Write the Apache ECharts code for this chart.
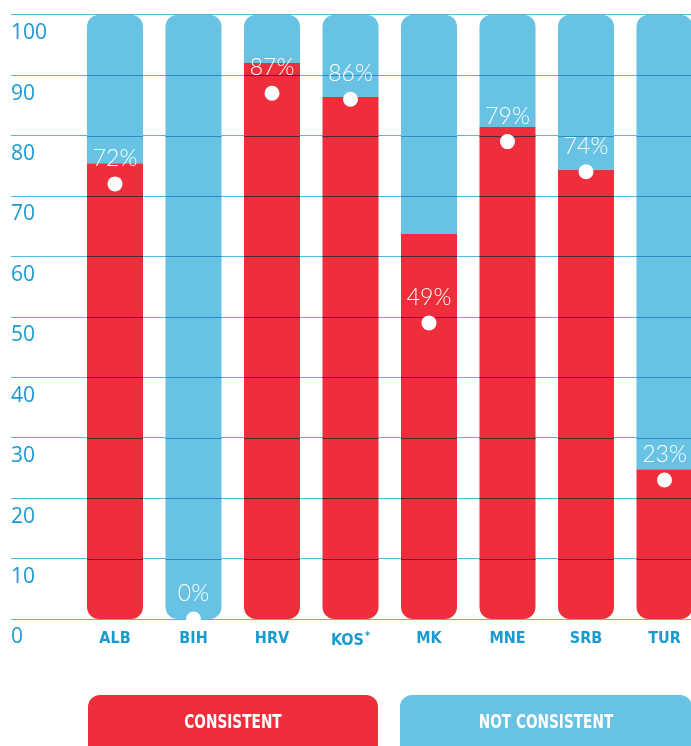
<!DOCTYPE html>
<html>
<head>
<meta charset="utf-8">
<script src="https://cdn.jsdelivr.net/npm/echarts@6/dist/echarts.min.js"></script>
<style>
  html, body { margin: 0; padding: 0; background: #ffffff; }
  #chart { width: 691px; height: 746px; }
</style>
</head>
<body>
<div id="chart"></div>
<script>
// Country codes along the bottom
const categories = ['ALB', 'BIH', 'HRV', 'KOS', 'MK', 'MNE', 'SRB', 'TUR'];
// Height of the red (consistent) part of each column
const consistentShare = [75.4, 0, 92, 86.4, 63.7, 81.4, 74.4, 24.8];
// Remainder up to 100, drawn in blue
const notConsistentShare = consistentShare.map(v => +(100 - v).toFixed(1));
// Percentages marked with the white dots
const dotValues = [72, 0, 87, 86, 49, 79, 74, 23];
// Horizontal guide lines
const yTicks = [0, 10, 20, 30, 40, 50, 60, 70, 80, 90, 100];
// Legend captions
const legendNames = ['CONSISTENT', 'NOT CONSISTENT'];

const RED = '#ee2e3b';
const BLUE = '#67c2e3';
const AXIS_BLUE = '#1a9bd0';
const GRID_LINE = '#55b9e1';
// guide line tint where it crosses a red or a blue column
const LINE_ON_RED = '#4a2a3c';
const LINE_ON_BLUE = '#2a8cc4';
const NARROW = "'Liberation Sans Narrow', 'DejaVu Sans Condensed', 'Roboto', sans-serif";
const R = 12;
const BAR_W = 56;

const chart = echarts.init(document.getElementById('chart'), null, { renderer: 'canvas' });

const redData = consistentShare.map(v => ({
  value: v,
  itemStyle: { borderRadius: [0, 0, R, R] }
}));
const blueData = notConsistentShare.map((v, i) => ({
  value: v,
  itemStyle: { borderRadius: consistentShare[i] === 0 ? [R, R, R, R] : [R, R, 0, 0] }
}));

chart.setOption({
  animation: false,
  backgroundColor: '#ffffff',
  grid: [
    // grid 0: guide lines and value labels across the full width
    { left: 11, right: 0, top: 14.7, bottom: 127, containLabel: false, outerBoundsMode: 'none' },
    // grid 1: the columns (runs slightly past the right edge)
    { left: 75.75, width: 628, top: 14.7, bottom: 127, containLabel: false, outerBoundsMode: 'none' }
  ],
  xAxis: [
    { type: 'value', gridIndex: 0, min: 0, max: 1, show: false },
    {
      type: 'category', gridIndex: 1, data: categories,
      axisLine: { show: false }, axisTick: { show: false },
      axisLabel: {
        interval: 0,
        margin: 12,
        color: AXIS_BLUE,
        fontFamily: NARROW,
        fontWeight: 'bold',
        fontSize: 16,
        formatter: v => v === 'KOS' ? '{b|KOS}{s|*}' : '{b|' + v + '}',
        rich: {
          b: { color: AXIS_BLUE, fontFamily: NARROW, fontWeight: 'bold', fontSize: 16 },
          s: { color: AXIS_BLUE, fontFamily: NARROW, fontWeight: 'bold', fontSize: 11, padding: [0, 0, 9, 1] }
        }
      }
    }
  ],
  yAxis: [
    {
      type: 'value', gridIndex: 0, min: 0, max: 100, interval: 10,
      axisLine: { show: false }, axisTick: { show: false },
      splitLine: { show: true, lineStyle: { color: GRID_LINE, width: 1 } },
      axisLabel: {
        inside: true, margin: 0, align: 'left', verticalAlign: 'top',
        padding: [8, 0, 0, 0],
        color: AXIS_BLUE, fontSize: 21, fontFamily: "'Open Sans', sans-serif"
      }
    },
    {
      type: 'value', gridIndex: 1, min: 0, max: 100, interval: 10, show: false
    }
  ],
  series: [
    {
      name: legendNames[0], type: 'bar', stack: 'share',
      xAxisIndex: 1, yAxisIndex: 1, barWidth: BAR_W,
      itemStyle: { color: RED }, data: redData, z: 2
    },
    {
      name: legendNames[1], type: 'bar', stack: 'share',
      xAxisIndex: 1, yAxisIndex: 1, barWidth: BAR_W,
      itemStyle: { color: BLUE }, data: blueData, z: 2
    },
    {
      // guide lines where they pass over each column, tinted by the column colour
      type: 'custom', xAxisIndex: 1, yAxisIndex: 1, z: 4, silent: true,
      data: consistentShare.map((v, i) => [i, v]),
      renderItem: (params, api) => {
        const idx = api.value(0);
        const red = api.value(1);
        const cx = api.coord([idx, 0])[0];
        const children = [];
        yTicks.forEach(t => {
          if (t <= 0 || t >= 100) return;
          const y = Math.round(api.coord([idx, t])[1]) + 0.5;
          children.push({
            type: 'line',
            shape: { x1: cx - BAR_W / 2, y1: y, x2: cx + BAR_W / 2, y2: y },
            style: { stroke: t < red ? LINE_ON_RED : LINE_ON_BLUE, lineWidth: 1 }
          });
        });
        return { type: 'group', children };
      }
    },
    {
      type: 'scatter', xAxisIndex: 1, yAxisIndex: 1, z: 6,
      symbol: 'circle', symbolSize: 15,
      itemStyle: { color: '#ffffff', opacity: 1 },
      data: dotValues,
      label: {
        show: true, position: 'top', distance: 6,
        formatter: p => p.value + '%',
        color: '#ffffff', fontSize: 23, fontWeight: 300,
        fontFamily: "'Lato', sans-serif", lineHeight: 24
      }
    }
  ],
  graphic: [
    {
      type: 'group',
      children: [
        { type: 'rect', shape: { x: 88, y: 695, width: 290, height: 80, r: R }, style: { fill: RED } },
        { type: 'text', x: 233, y: 723, scaleX: 0.8, style: { text: legendNames[0], fill: '#ffffff', font: 'bold 19px ' + NARROW, align: 'center', verticalAlign: 'middle' } },
        { type: 'rect', shape: { x: 400, y: 695, width: 292, height: 80, r: R }, style: { fill: BLUE } },
        { type: 'text', x: 546, y: 723, scaleX: 0.8, style: { text: legendNames[1], fill: '#ffffff', font: 'bold 19px ' + NARROW, align: 'center', verticalAlign: 'middle' } }
      ]
    }
  ]
});
</script>
</body>
</html>
